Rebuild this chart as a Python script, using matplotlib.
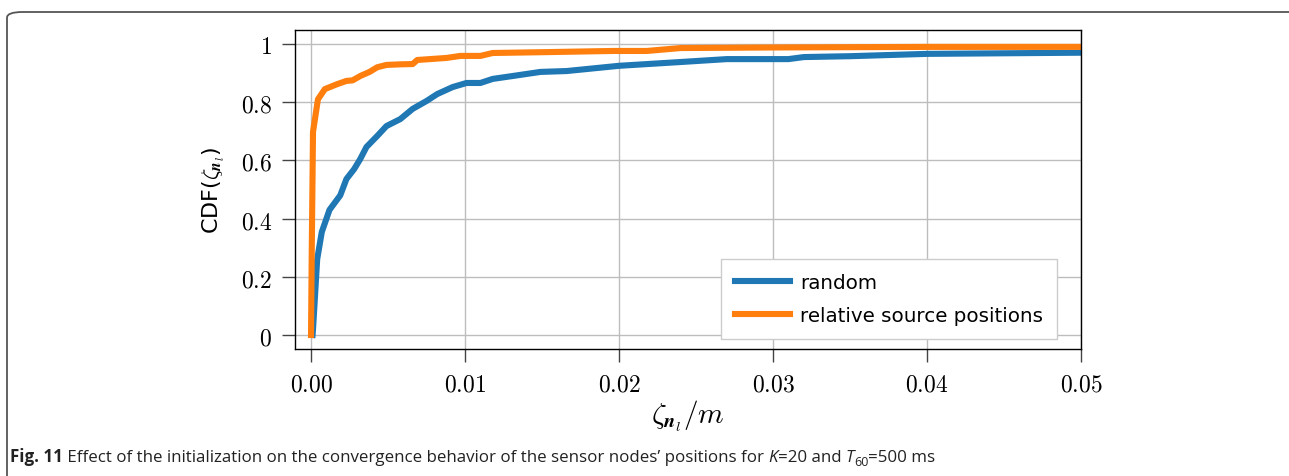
import numpy as np
import matplotlib
matplotlib.use("Agg")
import matplotlib.pyplot as plt
from matplotlib.patches import FancyBboxPatch
from matplotlib.ticker import FuncFormatter

# CDF of the final position error, random initialization
rand_x = [0.0001, 0.00013, 0.0004, 0.0007, 0.0012, 0.0019, 0.0023, 0.0028, 0.0032,
          0.0036, 0.0043, 0.0049, 0.0058, 0.0066, 0.0075, 0.0082, 0.0092, 0.0101,
          0.0110, 0.0118, 0.0131, 0.0149, 0.0166, 0.0200, 0.0240, 0.0270, 0.0310,
          0.0320, 0.0350, 0.0400, 0.0450, 0.0500]
rand_y = [0.0, 0.02, 0.26, 0.354, 0.43, 0.48, 0.536, 0.57, 0.605,
          0.646, 0.684, 0.718, 0.742, 0.777, 0.804, 0.828, 0.852, 0.866,
          0.866, 0.88, 0.89, 0.904, 0.907, 0.925, 0.938, 0.948, 0.948,
          0.955, 0.958, 0.966, 0.968, 0.970]

# initialization from relative source positions
rel_x = [0.0, 0.00005, 0.00013, 0.00045, 0.0009, 0.0017, 0.0023, 0.0027, 0.0032,
         0.0038, 0.0043, 0.0049, 0.0058, 0.0066, 0.0069, 0.0088, 0.0097, 0.0110,
         0.0118, 0.0153, 0.0196, 0.0218, 0.0240, 0.0300, 0.0400, 0.0500]
rel_y = [0.0, 0.3, 0.698, 0.81, 0.845, 0.862, 0.873, 0.875, 0.89,
         0.904, 0.92, 0.928, 0.93, 0.931, 0.945, 0.952, 0.959, 0.959,
         0.969, 0.972, 0.976, 0.976, 0.986, 0.988, 0.99, 0.99]

series_labels = ["random", "relative source positions"]
x_ticks = [0.0, 0.01, 0.02, 0.03, 0.04, 0.05]
y_ticks = [0, 0.2, 0.4, 0.6, 0.8, 1]

plt.rcParams["mathtext.fontset"] = "cm"
plt.rcParams["font.family"] = ["DejaVu Sans"]

W, H = 1289, 477
fig = plt.figure(figsize=(W / 100, H / 100), dpi=100)

# panel frame with rounded top-left corner, running off the page
frame = FancyBboxPatch((7 / W, -0.2), 1.2, (H - 13) / H + 0.2,
                       boxstyle="round,pad=0,rounding_size=0.012",
                       transform=fig.transFigure, fill=False,
                       edgecolor="#555555", linewidth=1.3, clip_on=False)
fig.patches.append(frame)

ax = fig.add_axes([295 / W, 1 - 350 / H, (1081 - 295) / W, (350 - 31) / H])
ax.plot(rand_x, rand_y, color="#1f77b4", lw=4.4, label=series_labels[0],
        solid_joinstyle="round")
ax.plot(rel_x, rel_y, color="#ff7f0e", lw=4.4, label=series_labels[1],
        solid_joinstyle="round")

ax.set_xlim(-0.00104, 0.05)
ax.set_ylim(-0.048, 1.048)
ax.set_xticks(x_ticks)
ax.set_yticks(y_ticks)
ax.xaxis.set_major_formatter(FuncFormatter(lambda v, p: r"$%.2f$" % v))
ax.yaxis.set_major_formatter(FuncFormatter(lambda v, p: r"$%g$" % v))
ax.tick_params(direction="out", length=9.4, width=1.0, color="#444444",
               labelsize=17, pad=7)
ax.grid(True, color="#bdbdbd", lw=1.0)
ax.set_axisbelow(True)
for sp in ax.spines.values():
    sp.set_linewidth(1.0)
    sp.set_color("black")

ax.set_ylabel(r"CDF($\zeta_{\boldsymbol{n}_l}$)", fontsize=16, labelpad=10)
ax.set_xlabel(r"$\zeta_{\boldsymbol{n}_l}/m$", fontsize=21, labelpad=1)

leg = ax.legend(loc="lower right", fontsize=14.3, frameon=True, fancybox=False,
                edgecolor="#cccccc", framealpha=1, handlelength=2.8,
                handletextpad=0.5, borderpad=0.7, labelspacing=0.7,
                borderaxespad=0, bbox_to_anchor=(1 - 24 / 786, 10 / 319))
leg.get_frame().set_linewidth(1.0)

# caption built from styled runs placed one after another
runs = [
    ("Fig. 11", dict(weight="bold")),
    (" Effect of the initialization on the convergence behavior of the sensor "
     "nodes\u2019 positions for ", {}),
    ("K", dict(style="italic")),
    ("=20 and ", {}),
    ("T", dict(style="italic")),
    ("60", dict(size=9, sub=True)),
    ("=500 ms", {}),
]
fig.canvas.draw()
renderer = fig.canvas.get_renderer()
x_px = 10.0
y_px = H - 462
for text, style in runs:
    style = dict(style)
    size = style.pop("size", 12.2)
    sub = style.pop("sub", False)
    t = fig.text(x_px / W, (y_px - (4 if sub else 0)) / H, text,
                 family=["Open Sans", "DejaVu Sans"], fontsize=size,
                 color="#222222", ha="left", va="baseline", **style)
    bb = t.get_window_extent(renderer)
    x_px += bb.width

fig.savefig("out.png", dpi=100)
